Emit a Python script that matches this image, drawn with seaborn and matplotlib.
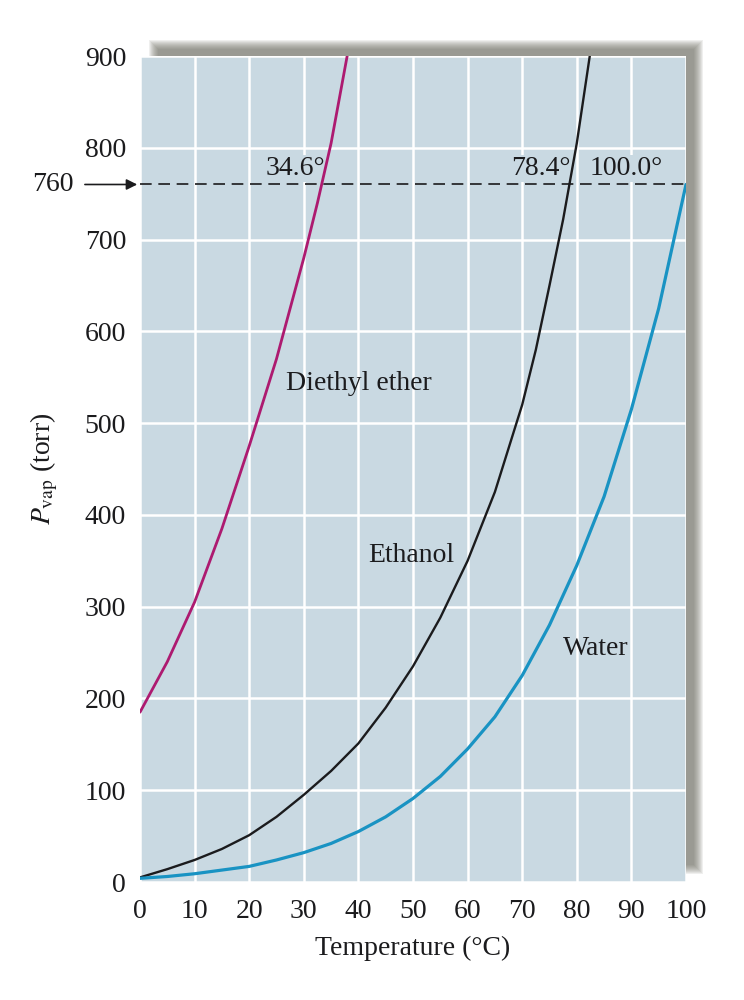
import numpy as np
import pandas as pd
import matplotlib
matplotlib.use('Agg')
import matplotlib.pyplot as plt
import seaborn as sns
from matplotlib.patches import Rectangle

# values (deg C, torr)
ether_t = [0, 5, 10, 15, 20, 25, 30, 32.5, 35, 38.5]
ether_p = [185, 240, 305, 385, 475, 570, 680, 740, 805, 918]

ethanol_t = [0, 5, 10, 15, 20, 25, 30, 35, 40, 45, 50, 55, 60, 65, 70, 72.5, 75, 77.5, 80, 82.5]
ethanol_p = [5, 14, 24, 36, 51, 71, 95, 121, 151, 190, 235, 288, 350, 425, 520, 580, 650, 722, 805, 905]

water_t = [0, 5, 10, 15, 20, 25, 30, 35, 40, 45, 50, 55, 60, 65, 70, 75, 80, 85, 90, 95, 100]
water_p = [4, 6, 9, 13, 17, 24, 32, 42, 55, 71, 91, 115, 145, 180, 225, 280, 345, 420, 515, 625, 760]

boiling_labels = ['34.6°', '78.4°', '100.0°']
boiling_label_t = [28.4, 73.4, 89.0]
p_atm = 760

x_ticks = list(range(0, 101, 10))
y_ticks = list(range(0, 901, 100))

sns.set_theme(style='white')
plt.rcParams['font.family'] = ['Liberation Serif', 'DejaVu Serif']
plt.rcParams['mathtext.fontset'] = 'stix'

W, H = 744, 1000
fig = plt.figure(figsize=(W / 100, H / 100), dpi=100)
ax_l, ax_b, ax_w, ax_h = 140, 118, 546, 826
ax = fig.add_axes([ax_l / W, ax_b / H, ax_w / W, ax_h / H])
ax.set_facecolor('#c9d9e2')

# soft drop shadow behind the panel, built from stacked translucent boxes
dx, dy = 13, 12
for k in range(10):
    g = 4 - k
    fig.add_artist(Rectangle(((ax_l + dx - g) / W, (ax_b + dy - g) / H),
                             (ax_w + 2 * g) / W, (ax_h + 2 * g) / H,
                             transform=fig.transFigure, facecolor='#707068',
                             edgecolor='none', alpha=0.11, zorder=-5))

df_ether = pd.DataFrame({'t': ether_t, 'p': ether_p})
df_ethanol = pd.DataFrame({'t': ethanol_t, 'p': ethanol_p})
df_water = pd.DataFrame({'t': water_t, 'p': water_p})

sns.lineplot(data=df_ether, x='t', y='p', color='#ad1a70', lw=2.0, ax=ax, zorder=4)
sns.lineplot(data=df_ethanol, x='t', y='p', color='#1b1b1d', lw=1.7, ax=ax, zorder=4)
sns.lineplot(data=df_water, x='t', y='p', color='#1993c3', lw=2.3, ax=ax, zorder=4)

ax.axhline(p_atm, color='#1b1b1d', lw=1.2, ls=(0, (7, 4)), zorder=3)

ax.set_xlim(0, 100)
ax.set_ylim(0, 900)
ax.set_xticks(x_ticks)
ax.set_yticks(y_ticks)
ax.grid(True, color='white', lw=1.8)
ax.set_axisbelow(True)
for s in ax.spines.values():
    s.set_visible(False)
fs = 20
ax.tick_params(length=0, labelsize=fs, colors='#1b1b1d')
ax.tick_params(axis='y', pad=10)
ax.tick_params(axis='x', pad=12)

ax.set_xlabel('Temperature (°C)', fontsize=fs, color='#1b1b1d', labelpad=9)
ax.set_ylabel(r'$P_{\mathrm{vap}}$ (torr)', fontsize=fs, color='#1b1b1d', labelpad=18)

tc = '#1b1b1d'
ax.text(26.7, 543, 'Diethyl ether', fontsize=fs, color=tc, va='center', ha='left')
ax.text(41.8, 356, 'Ethanol', fontsize=fs, color=tc, va='center', ha='left')
ax.text(77.5, 254, 'Water', fontsize=fs, color=tc, va='center', ha='left')
for lab, t in zip(boiling_labels, boiling_label_t):
    ax.text(t, p_atm + 4, lab, fontsize=fs, color=tc, ha='center', va='bottom',
            bbox=dict(facecolor='#c9d9e2', edgecolor='none', pad=0.5), zorder=3.5)

# 760 marker on the left of the axis
ax.annotate('', xy=(0, p_atm), xytext=(-10.6, p_atm), xycoords='data',
            arrowprops=dict(arrowstyle='-|>', color=tc, lw=1.2, mutation_scale=16),
            annotation_clip=False)
ax.text(-12.2, p_atm, str(p_atm), fontsize=fs, color=tc, ha='right', va='center',
        clip_on=False)

fig.savefig('out.png', dpi=100)
